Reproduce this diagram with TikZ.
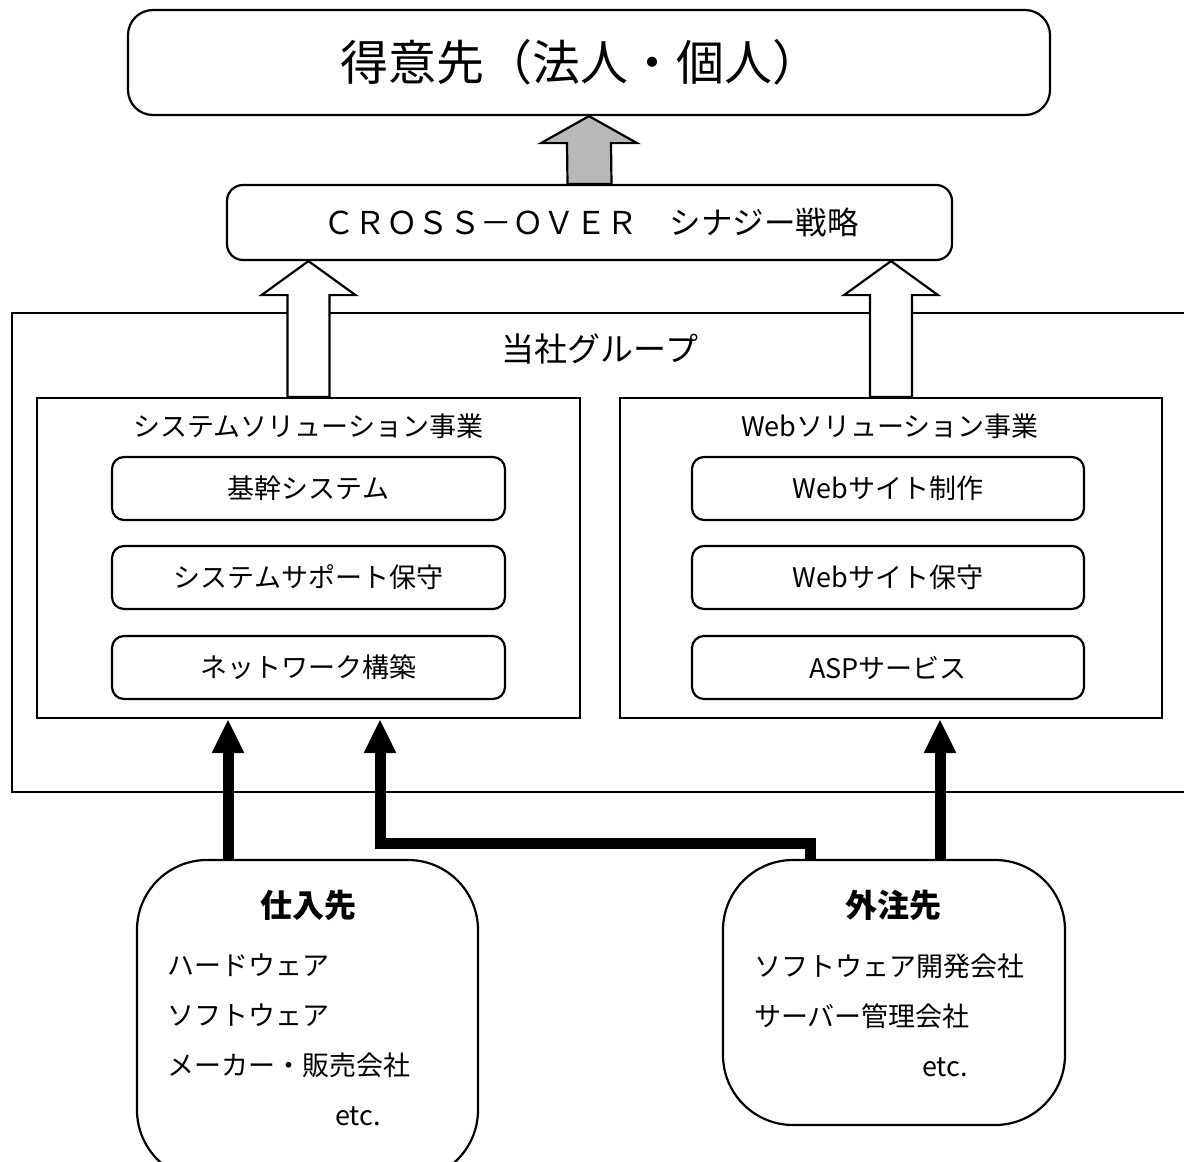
\documentclass[tikz,border=0pt]{standalone}
\usepackage{fontspec}
\setmainfont{Noto Sans CJK JP}
\usetikzlibrary{arrows.meta,calc}
\tikzset{
    box/.style={draw, line width=2.2pt, rounded corners=#1, inner sep=0pt},
    box/.default=12pt,
    frame/.style={draw, line width=2.2pt, inner sep=0pt},
    blockarrow/.style={draw, line width=2.2pt, fill=white},
    feed/.style={line width=11pt, -{Triangle[width=30pt,length=34pt]}},
    plain/.style={inner sep=0pt, font=\fontsize{27}{30}\selectfont},
}
\begin{document}
\begin{tikzpicture}[x=1pt,y=-1pt]
        \useasboundingbox (0,0) rectangle (1184,1162);
        \clip (0,0) rectangle (1184,1162);
        % draw customer and strategy boxes
        \node[box=25pt, minimum width=922pt, minimum height=105pt] (client) at (589,62.5) {};
        \node[plain, font=\fontsize{48}{52}\selectfont] (clienttext) at (580,62) {得意先（法人・個人）};
        \node[box=16pt, minimum width=725pt, minimum height=75pt] (cross) at (589.5,222.5) {};
        \node[plain, font=\fontsize{31.5}{34}\selectfont] (crosstext) at (591,222.5) {ＣＲＯＳＳ－ＯＶＥＲ　シナジー戦略};
        % draw group frame
        \node[frame, minimum width=1188pt, minimum height=479pt] (group) at (606,552.5) {};
        \node[plain, font=\fontsize{33}{36}\selectfont] (grouptext) at (600,349) {当社グループ};
        % draw the two business units
        \node[frame, minimum width=543pt, minimum height=320pt] (sysbox) at (308.5,558) {};
        \node[plain] (systitle) at (308.5,426) {システムソリューション事業};
        \node[box, minimum width=393pt, minimum height=63pt] (core) at (308.5,488.5) {};
        \node[plain] at (core.center) {基幹システム};
        \node[box, minimum width=393pt, minimum height=63pt] (support) at (308.5,577.5) {};
        \node[plain] at (support.center) {システムサポート保守};
        \node[box, minimum width=393pt, minimum height=63pt] (network) at (308.5,667.5) {};
        \node[plain] at (network.center) {ネットワーク構築};
        \node[frame, minimum width=542pt, minimum height=320pt] (webbox) at (891,558) {};
        \node[plain] (webtitle) at (890,426) {Webソリューション事業};
        \node[box, minimum width=392pt, minimum height=63pt] (site) at (888,488.5) {};
        \node[plain] at (site.center) {Webサイト制作};
        \node[box, minimum width=392pt, minimum height=63pt] (upkeep) at (888,577.5) {};
        \node[plain] at (upkeep.center) {Webサイト保守};
        \node[box, minimum width=392pt, minimum height=63pt] (asp) at (888,667.5) {};
        \node[plain] at (asp.center) {ASPサービス};
        % draw suppliers and contractors
        \node[box=70pt, minimum width=341pt, minimum height=320pt] (supplier) at (307.5,1020) {};
        \node[plain, font=\fontsize{32}{36}\selectfont\bfseries] (suppliertext) at (308,905) {仕入先};
        \node[plain, anchor=west] (hw) at (167,965) {ハードウェア};
        \node[plain, anchor=west] (sw) at (167,1015) {ソフトウェア};
        \node[plain, anchor=west] (maker) at (167,1065) {メーカー・販売会社};
        \node[plain, anchor=west] (etca) at (335,1116) {etc.};
        \node[box=70pt, minimum width=342pt, minimum height=265pt] (vendor) at (894,992.5) {};
        \node[plain, font=\fontsize{32}{36}\selectfont\bfseries] (vendortext) at (893,905) {外注先};
        \node[plain, anchor=west] (dev) at (754,966) {ソフトウェア開発会社};
        \node[plain, anchor=west] (server) at (754,1016) {サーバー管理会社};
        \node[plain, anchor=west] (etcb) at (922,1067) {etc.};
        % draw block arrows
        \draw[blockarrow, fill=black!28] ([xshift=-22pt]cross.north) -- ($(client.south)+(-22,27)$) -- ($(client.south)+(-48,27)$)
            -- (client.south) -- ($(client.south)+(48,27)$) -- ($(client.south)+(22,27)$) -- ([xshift=22pt]cross.north) -- cycle;
        \coordinate (tipA) at (sysbox.north |- cross.south);
        \draw[blockarrow] ([xshift=-21pt]sysbox.north) -- ($(tipA)+(-21,34)$) -- ($(tipA)+(-47,34)$)
            -- (tipA) -- ($(tipA)+(47,34)$) -- ($(tipA)+(21,34)$) -- ([xshift=21pt]sysbox.north) -- cycle;
        \coordinate (tipB) at (webbox.north |- cross.south);
        \draw[blockarrow] ([xshift=-21pt]webbox.north) -- ($(tipB)+(-21,34)$) -- ($(tipB)+(-47,34)$)
            -- (tipB) -- ($(tipB)+(47,34)$) -- ($(tipB)+(21,34)$) -- ([xshift=21pt]webbox.north) -- cycle;
        % draw supply lines
        \coordinate (feedA) at (228,843);
        \coordinate (feedB) at (810,843);
        \coordinate (feedC) at (380,843);
        \coordinate (feedD) at (940,843);
        \draw[feed] (supplier.north -| feedA) -- (sysbox.south -| feedA);
        \draw[feed] (vendor.north -| feedB) -- (feedB) -- (feedC) -- (sysbox.south -| feedC);
        \draw[feed] (vendor.north -| feedD) -- (webbox.south -| feedD);
    \end{tikzpicture}
\end{document}
